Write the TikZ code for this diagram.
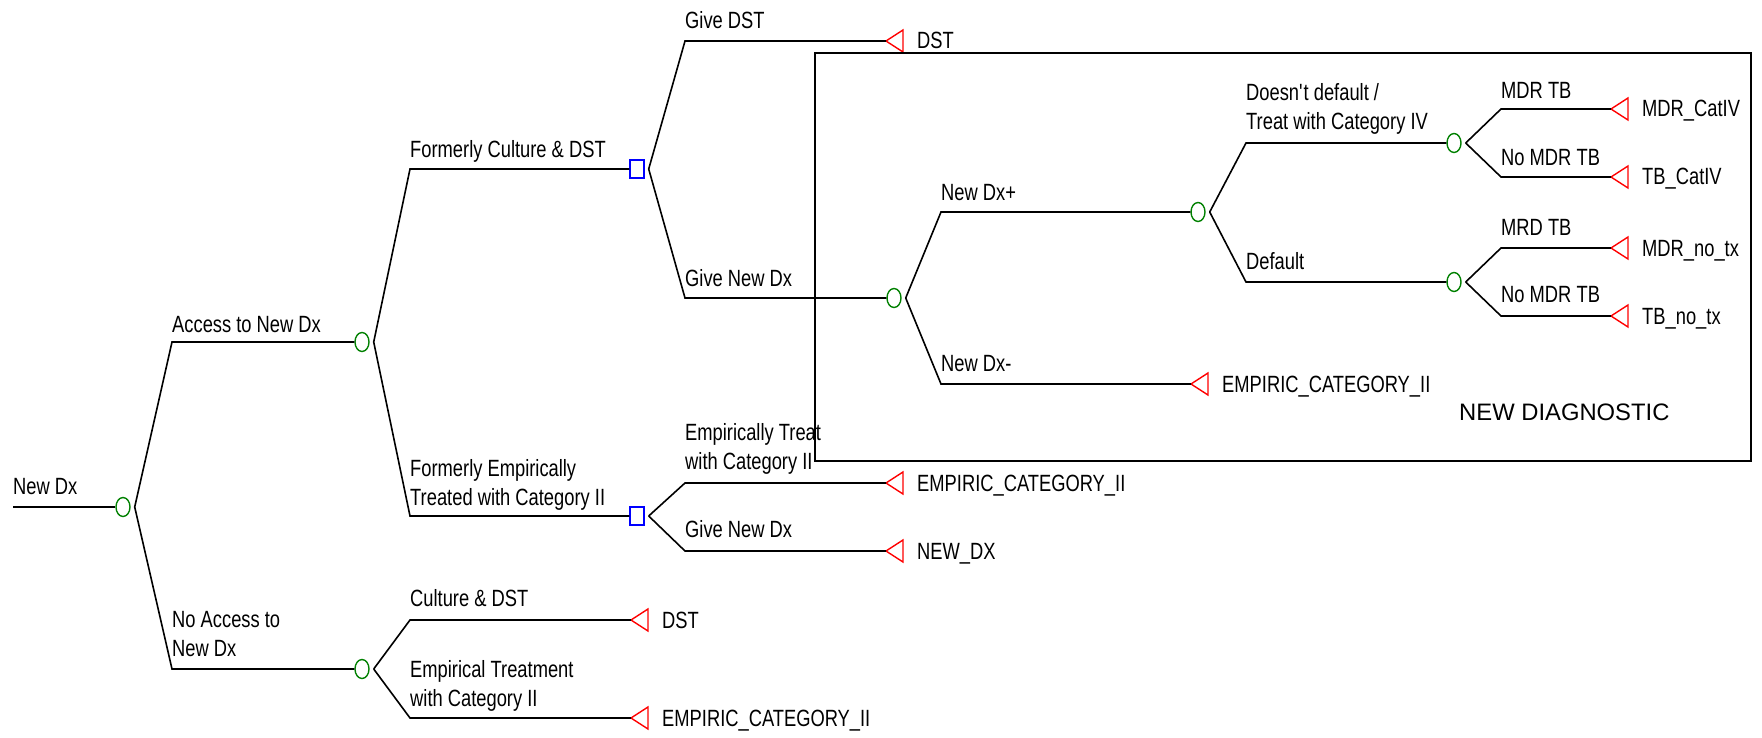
\documentclass[tikz,border=0pt]{standalone}
\usepackage{fontspec}
\setmainfont{Liberation Sans}[FakeStretch=0.78]
\newfontfamily\widesans{Liberation Sans}
\usetikzlibrary{shapes.geometric}
\definecolor{chancegreen}{RGB}{0,128,0}
\definecolor{decblue}{RGB}{0,0,255}
\definecolor{termred}{RGB}{255,0,0}

\tikzset{
  edge/.style={line width=1.6pt, black, line join=miter},
  chance/.style={ellipse, draw=chancegreen, line width=1.4pt, minimum width=14pt, minimum height=19pt, inner sep=0pt},
  decision/.style={rectangle, draw=decblue, line width=1.4pt, minimum width=14pt, minimum height=18pt, inner sep=0pt},
  tri/.style={draw=termred, line width=1.4pt, line join=miter},
  lbl/.style={anchor=south west, text depth=0pt, inner sep=0pt, align=left, font=\fontsize{23.5}{29}\selectfont},
  tlbl/.style={anchor=base west, inner sep=0pt, font=\fontsize{23.5}{29}\selectfont},
  frame/.style={draw, line width=2pt},
}

% terminal node: name, tip position, outcome text
\newcommand\terminal[3]{%
  \coordinate (#1) at (#2);
  \draw[tri] (#1) -- ++(17,-11) -- ++(0,22) -- cycle;
  \node[tlbl] (#1-txt) at ([xshift=31pt,yshift=-8pt]#1) {#3};
}

\begin{document}
\begin{tikzpicture}[x=1pt, y=-1pt]
\useasboundingbox (0,0) rectangle (1762,738);

% ---------- root ----------
\coordinate (start) at (13,507);
\node[chance] (n0) at (123,507) {};
\node[lbl] at (13,495) {New Dx};
\draw[edge] (start) -- (n0.west);

% ---------- first level ----------
\coordinate (kA) at (172,342);
\coordinate (kB) at (172,669);
\node[chance] (nA) at (362,342) {};
\node[chance] (nB) at (362,669) {};
\node[lbl] at (172,333) {Access to New Dx};
\node[lbl] at (172,657) {No Access to\\New Dx};
\draw[edge] ([xshift=4pt]n0.east) -- (kA) -- (nA.west);
\draw[edge] ([xshift=4pt]n0.east) -- (kB) -- (nB.west);

% ---------- access branch ----------
\coordinate (kC) at (410,169);
\coordinate (kE) at (410,516);
\node[decision] (sC) at (637,169) {};
\node[decision] (sE) at (637,516) {};
\node[lbl] at (410,158) {Formerly Culture \& DST};
\node[lbl] at (410,506) {Formerly Empirically\\Treated with Category II};
\draw[edge] ([xshift=4pt]nA.east) -- (kC) -- (sC.west);
\draw[edge] ([xshift=4pt]nA.east) -- (kE) -- (sE.west);

% formerly culture & DST
\coordinate (kC1) at (685,41);
\coordinate (kC2) at (685,298);
\terminal{tC1}{886,41}{DST}
\node[chance] (nD) at (894,298) {};
\node[lbl] at (685,29) {Give DST};
\node[lbl] at (685,287) {Give New Dx};
\draw[edge] ([xshift=4pt]sC.east) -- (kC1) -- (tC1);
\draw[edge] ([xshift=4pt]sC.east) -- (kC2) -- (nD.west);

% formerly empirically treated
\coordinate (kE1) at (685,483);
\coordinate (kE2) at (685,551);
\terminal{tE1}{886,483}{EMPIRIC\_CATEGORY\_II}
\terminal{tE2}{886,551}{NEW\_DX}
\node[lbl] at (685,470) {Empirically Treat\\with Category II};
\node[lbl] at (685,538) {Give New Dx};
\draw[edge] ([xshift=4pt]sE.east) -- (kE1) -- (tE1);
\draw[edge] ([xshift=4pt]sE.east) -- (kE2) -- (tE2);

% ---------- no access branch ----------
\coordinate (kB1) at (410,620);
\coordinate (kB2) at (410,718);
\terminal{tB1}{631,620}{DST}
\terminal{tB2}{631,718}{EMPIRIC\_CATEGORY\_II}
\node[lbl] at (410,607) {Culture \& DST};
\node[lbl] at (410,707) {Empirical Treatment\\with Category II};
\draw[edge] ([xshift=4pt]nB.east) -- (kB1) -- (tB1);
\draw[edge] ([xshift=4pt]nB.east) -- (kB2) -- (tB2);

% ---------- new diagnostic subtree ----------
\coordinate (kP) at (941,212);
\coordinate (kM) at (941,384);
\node[chance] (nP) at (1198,212) {};
\terminal{tM}{1191,384}{EMPIRIC\_CATEGORY\_II}
\node[lbl] at (941,201) {New Dx+};
\node[lbl] at (941,372) {New Dx-};
\draw[edge] ([xshift=4pt]nD.east) -- (kP) -- (nP.west);
\draw[edge] ([xshift=4pt]nD.east) -- (kM) -- (tM);

\coordinate (kQ) at (1246,143);
\coordinate (kR) at (1246,282);
\node[chance] (nQ) at (1454,143) {};
\node[chance] (nR) at (1454,282) {};
\node[lbl] at (1246,130) {Doesn\textquotesingle t default /\\Treat with Category IV};
\node[lbl] at (1246,270) {Default};
\draw[edge] ([xshift=4pt]nP.east) -- (kQ) -- (nQ.west);
\draw[edge] ([xshift=4pt]nP.east) -- (kR) -- (nR.west);

\coordinate (kQ1) at (1501,109);
\coordinate (kQ2) at (1501,177);
\terminal{tQ1}{1611,109}{MDR\_CatIV}
\terminal{tQ2}{1611,177}{TB\_CatIV}
\node[lbl] at (1501,99) {MDR TB};
\node[lbl] at (1501,166) {No MDR TB};
\draw[edge] ([xshift=4pt]nQ.east) -- (kQ1) -- (tQ1);
\draw[edge] ([xshift=4pt]nQ.east) -- (kQ2) -- (tQ2);

\coordinate (kR1) at (1501,248);
\coordinate (kR2) at (1501,316);
\terminal{tR1}{1611,248}{MDR\_no\_tx}
\terminal{tR2}{1611,316}{TB\_no\_tx}
\node[lbl] at (1501,236) {MRD TB};
\node[lbl] at (1501,303) {No MDR TB};
\draw[edge] ([xshift=4pt]nR.east) -- (kR1) -- (tR1);
\draw[edge] ([xshift=4pt]nR.east) -- (kR2) -- (tR2);

% frame round the new diagnostic subtree
\draw[frame] (815,53) rectangle (1751,461);
\node[anchor=base west, inner sep=0pt, font=\widesans\fontsize{23.8}{29}\selectfont] at (1459,420) {NEW DIAGNOSTIC};
\end{tikzpicture}
\end{document}
